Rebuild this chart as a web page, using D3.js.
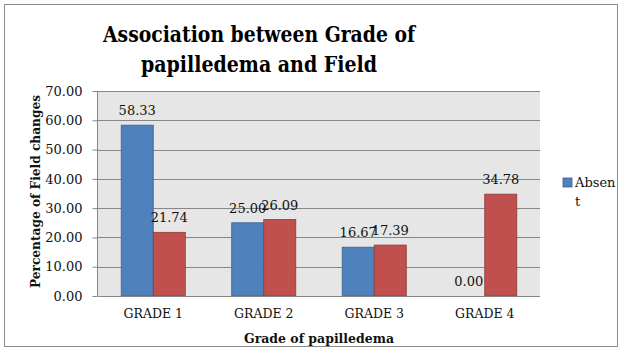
<!DOCTYPE html>
<html>
<head>
<meta charset="utf-8">
<script src="https://cdn.jsdelivr.net/npm/d3@7"></script>
<style>
  body { margin: 0; background: #fff; }
  text { font-family: "DejaVu Serif", serif; }
</style>
</head>
<body>
<div id="chart"></div>
<script>
var categories = ["GRADE 1", "GRADE 2", "GRADE 3", "GRADE 4"];
var absent = [58.33, 25.00, 16.67, 0.00];
var present = [21.74, 26.09, 17.39, 34.78];
var yTicks = [0, 10, 20, 30, 40, 50, 60, 70];

var width = 626, height = 353;
var margin = {top: 91, right: 86, bottom: 57, left: 98};
var plotW = width - margin.left - margin.right;
var plotH = height - margin.top - margin.bottom;

var svg = d3.select("#chart").append("svg")
    .attr("width", width)
    .attr("height", height);

// outer frame
svg.append("rect")
    .attr("x", 4.5).attr("y", 4.5)
    .attr("width", 613).attr("height", 342)
    .attr("fill", "#fff")
    .attr("stroke", "#8c8c8c");

var g = svg.append("g")
    .attr("transform", "translate(" + margin.left + "," + margin.top + ")");

var x = d3.scaleBand().domain(categories).range([0, plotW]).paddingInner(0.42).paddingOuter(0.21);
var y = d3.scaleLinear().domain([0, 70]).range([plotH, 0]);

g.append("rect")
    .attr("width", plotW).attr("height", plotH)
    .attr("fill", "#e6e6e6");

// gridlines
g.append("g").selectAll("line")
    .data(yTicks.slice(1))
    .enter().append("line")
    .attr("x1", 0).attr("x2", plotW)
    .attr("y1", function(d){ return Math.round(y(d)) + 0.5; })
    .attr("y2", function(d){ return Math.round(y(d)) + 0.5; })
    .attr("stroke", "#868686");

var bw = x.bandwidth() / 2;

var series = [
    {values: absent, fill: "#4f81bd", stroke: "#3a6190", off: 0},
    {values: present, fill: "#c0504d", stroke: "#8e3b39", off: 1}
];

series.forEach(function(s){
    g.append("g").selectAll("rect")
        .data(categories)
        .enter().append("rect")
        .attr("x", function(d){ return x(d) + s.off * bw; })
        .attr("y", function(d, i){ return y(s.values[i]); })
        .attr("width", bw)
        .attr("height", function(d, i){ return plotH - y(s.values[i]); })
        .attr("fill", s.fill)
        .attr("stroke", s.stroke)
        .attr("stroke-width", 0.8);

    g.append("g").selectAll("text")
        .data(categories)
        .enter().append("text")
        .attr("x", function(d){ return x(d) + s.off * bw + bw / 2; })
        .attr("y", function(d, i){ return y(s.values[i]) - 10; })
        .attr("text-anchor", "middle")
        .style("font-size", "13px")
        .attr("fill", "#111")
        .text(function(d, i){ return s.values[i].toFixed(2); });
});

// y axis
var yAxis = g.append("g")
    .attr("transform", "translate(-0.5,0)")
    .call(d3.axisLeft(y).tickValues(yTicks).tickSize(5).tickPadding(10)
        .tickFormat(function(d){ return d.toFixed(2); }));
yAxis.select(".domain").attr("stroke", "#868686").attr("d", "M0,0V" + plotH);
yAxis.selectAll(".tick line").attr("stroke", "#868686");
yAxis.selectAll("text").style("font-size", "13px").style("font-family", "DejaVu Serif").attr("fill", "#111");

// x axis
var xAxis = g.append("g")
    .attr("transform", "translate(0," + (plotH + 0.5) + ")")
    .call(d3.axisBottom(x).tickSize(0).tickPadding(13));
xAxis.select(".domain").attr("stroke", "#868686").attr("d", "M0,0H" + plotW);
xAxis.selectAll("text").style("font-size", "12.5px").style("font-family", "DejaVu Serif").attr("fill", "#111");

// titles
var title = svg.append("text")
    .attr("text-anchor", "middle")
    .style("font-family", "DejaVu Serif Condensed")
    .style("font-weight", "bold")
    .style("font-size", "23px")
    .attr("fill", "#000");
title.append("tspan").attr("x", 259).attr("y", 42)
    .attr("textLength", 312).attr("lengthAdjust", "spacingAndGlyphs")
    .text("Association between Grade of");
title.append("tspan").attr("x", 259).attr("y", 72)
    .attr("textLength", 236).attr("lengthAdjust", "spacingAndGlyphs")
    .text("papilledema and Field");

svg.append("text")
    .attr("x", margin.left + plotW / 2).attr("y", 343)
    .attr("text-anchor", "middle")
    .style("font-family", "DejaVu Serif Condensed")
    .style("font-weight", "bold")
    .style("font-size", "13px")
    .attr("textLength", 150).attr("lengthAdjust", "spacingAndGlyphs")
    .attr("fill", "#111")
    .text("Grade of papilledema");

svg.append("text")
    .attr("transform", "translate(40," + (margin.top + plotH / 2 - 2) + ") rotate(-90)")
    .attr("text-anchor", "middle")
    .style("font-family", "DejaVu Serif Condensed")
    .style("font-weight", "bold")
    .style("font-size", "13px")
    .attr("textLength", 193).attr("lengthAdjust", "spacingAndGlyphs")
    .attr("fill", "#111")
    .text("Percentage of Field changes");

// legend
var lg = svg.append("g").attr("transform", "translate(563,178)");
lg.append("rect").attr("width", 9).attr("height", 9)
    .attr("fill", "#4f81bd").attr("stroke", "#3a6190").attr("stroke-width", 0.8);
var lt = lg.append("text").style("font-size", "13px").attr("fill", "#111");
lt.append("tspan").attr("x", 12).attr("y", 9).text("Absen");
lt.append("tspan").attr("x", 12).attr("y", 28).text("t");
</script>
</body>
</html>
